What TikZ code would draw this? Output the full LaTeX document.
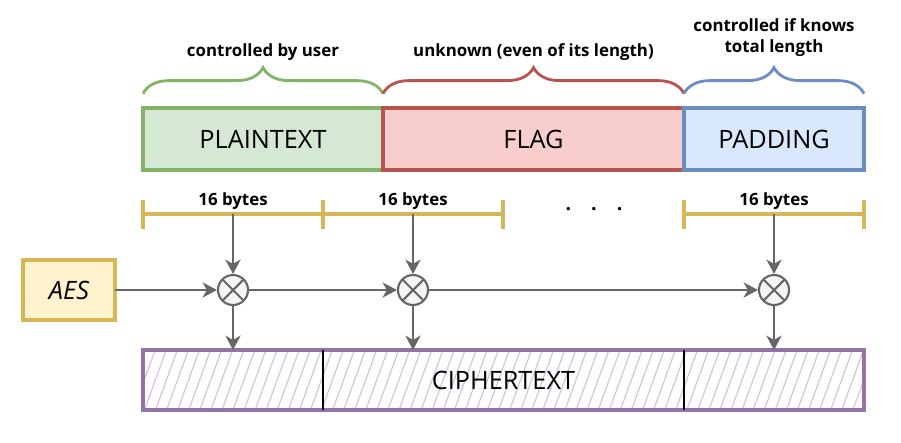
\documentclass[tikz,border=0pt]{standalone}
\usepackage{fontspec}
\setmainfont{Open Sans}
\usepackage{tikz}
\usepackage{xcolor}
\usetikzlibrary{arrows.meta,positioning,calc,decorations.pathreplacing,patterns.meta}
\definecolor{grnfill}{HTML}{D5E8D4}
\definecolor{grnline}{HTML}{82B366}
\definecolor{redfill}{HTML}{F8CECC}
\definecolor{redline}{HTML}{B85450}
\definecolor{blufill}{HTML}{DAE8FC}
\definecolor{bluline}{HTML}{6C8EBF}
\definecolor{yelfill}{HTML}{FFF2CC}
\definecolor{yelline}{HTML}{D6B656}
\definecolor{purline}{HTML}{9673A6}
\definecolor{purhatch}{HTML}{D3C0DC}
\definecolor{arrgray}{HTML}{666666}
\definecolor{xorfill}{HTML}{F5F5F5}
\tikzset{
  block/.style={line width=2.2pt,minimum height=1.55cm,inner sep=0pt,
                outer sep=0pt,font=\fontsize{18}{20}\selectfont},
  plainblock/.style={block,draw=grnline,fill=grnfill},
  flagblock/.style={block,draw=redline,fill=redfill},
  padblock/.style={block,draw=bluline,fill=blufill},
  aesbox/.style={block,draw=yelline,fill=yelfill,minimum width=2.3cm,
                 minimum height=1.5cm,font=\fontsize{18}{20}\selectfont\itshape},
  cipherbox/.style={block,draw=purline,line width=2.8pt,minimum height=1.5cm,
                    pattern={Lines[angle=70,distance=2.6mm,line width=0.8pt]},
                    pattern color=purhatch},
  note/.style={font=\fontsize{12}{15}\selectfont\bfseries,align=center,inner sep=1pt},
  bytes/.style={note,above,inner sep=2pt},
  curly/.style={decorate,decoration={brace,amplitude=0.65cm,raise=0.36cm},
                line width=2pt},
  ruler/.style={draw=yelline,line width=2.2pt},
  flow/.style={-{Stealth[length=3.6mm,width=3.8mm,inset=1.1mm]},
               line width=1.5pt,draw=arrgray},
  xor/.style={circle,draw=arrgray,fill=xorfill,line width=1.5pt,
              minimum size=0.75cm,inner sep=0pt,
              path picture={\draw[arrgray,line width=1.5pt]
                (path picture bounding box.south west) -- (path picture bounding box.north east)
                (path picture bounding box.north west) -- (path picture bounding box.south east);}}
}
\begin{document}
\begin{tikzpicture}[x=1cm,y=1cm]
    \path[use as bounding box] (0,0) rectangle (22.525,-11.05);
    % message blocks
    \node[plainblock,minimum width=6cm] (plain) at (6.575,-3.475) {PLAINTEXT};
    \node[flagblock,minimum width=7.525cm,anchor=west] (flag) at (plain.east) {FLAG};
    \node[padblock,minimum width=4.5cm,anchor=west] (pad) at (flag.east) {PADDING};

    \draw[curly,draw=grnline] (plain.north west) -- (plain.north east);
    \draw[curly,draw=redline] (flag.north west) -- (flag.north east);
    \draw[curly,draw=bluline] (pad.north west) -- (pad.north east);
    \node[note] (ctrl) at ($(plain.north)+(0,1.4)$) {controlled by user};
    \node[note] (unk) at ($(flag.north)+(0,1.4)$) {unknown (even of its length)};
    \node[note] (tot) at ($(pad.north)+(0,1.76)$) {controlled if knows\\total length};

    % 16 byte rulers
    \coordinate (t0) at (3.575,-5.35);
    \coordinate (t1) at (8.075,-5.35);
    \coordinate (t2) at (12.575,-5.35);
    \coordinate (t3) at (17.1,-5.35);
    \coordinate (t4) at (21.6,-5.35);
    \draw[ruler] (t0) -- node[bytes] (b1) {16 bytes} (t1);
    \draw[ruler] (t1) -- node[bytes] (b2) {16 bytes} (t2);
    \draw[ruler] (t3) -- node[bytes] (b3) {16 bytes} (t4);
    \foreach \t in {t0,t1,t2,t3,t4}
      \draw[ruler] ($(\t)+(0,0.35)$) -- ($(\t)+(0,-0.37)$);
    \coordinate (m1) at ($(t0)!0.5!(t1)$);
    \coordinate (m2) at ($(t1)!0.5!(t2)$);
    \coordinate (m3) at ($(t3)!0.5!(t4)$);
    \node[font=\fontsize{14}{16}\selectfont\bfseries] (dots) at (14.85,-5.22)
      {.\hspace{0.5cm}.\hspace{0.5cm}.};

    % chaining
    \node[aesbox] (aes) at (1.725,-7.25) {AES};
    \node[xor] (x1) at (m1 |- aes) {};
    \node[xor] (x2) at (m2 |- aes) {};
    \node[xor] (x3) at (m3 |- aes) {};
    \node[cipherbox,minimum width=18.025cm] (cipher) at (12.5875,-9.5) {CIPHERTEXT};
    \draw[line width=1.5pt] (t1 |- cipher.north) -- (t1 |- cipher.south);
    \draw[line width=1.5pt] (pad.west |- cipher.north) -- (pad.west |- cipher.south);

    \draw[flow] (aes) -- (x1);
    \draw[flow] (x1) -- (x2);
    \draw[flow] (x2) -- (x3);
    \draw[flow] (m1) -- (x1);
    \draw[flow] (m2) -- (x2);
    \draw[flow] (m3) -- (x3);
    \draw[flow] (x1) -- (x1 |- cipher.north);
    \draw[flow] (x2) -- (x2 |- cipher.north);
    \draw[flow] (x3) -- (x3 |- cipher.north);
  \end{tikzpicture}
\end{document}
